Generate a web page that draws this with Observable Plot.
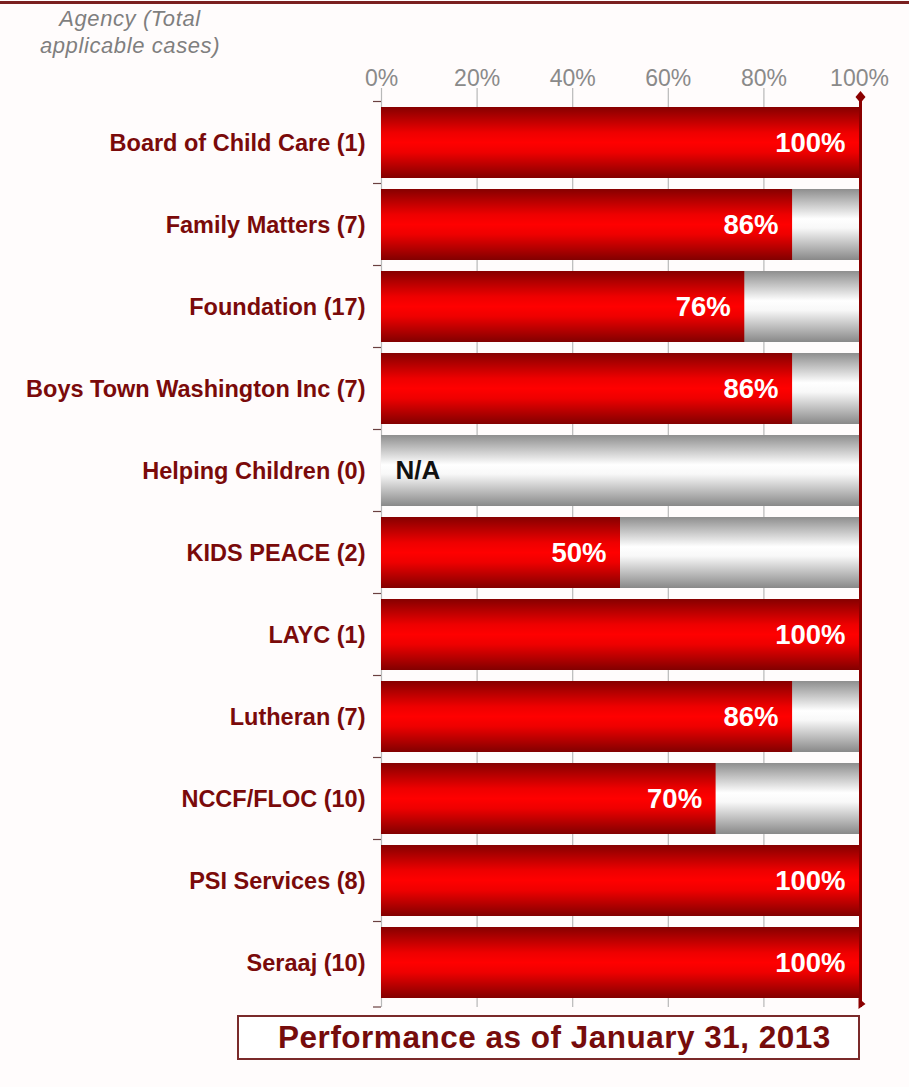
<!DOCTYPE html>
<html>
<head>
<meta charset="utf-8">
<script src="https://cdn.jsdelivr.net/npm/d3@7"></script>
<script src="https://cdn.jsdelivr.net/npm/@observablehq/plot@0.6"></script>
<style>
  html, body { margin: 0; padding: 0; background: #fffcfc; }
  body { width: 909px; height: 1087px; position: relative; overflow: hidden; font-family: "Liberation Sans", Arial, sans-serif; }
  #topline { position: absolute; left: 0; top: 1px; width: 909px; height: 3px; background: #7a1f1f; }
  #header { position: absolute; left: 20px; top: 5px; width: 220px; text-align: center; font-style: italic; font-size: 22px; letter-spacing: 0.6px; line-height: 27px; color: #7f7f7f; }
  #chart { position: absolute; left: 0; top: 0; }
  #caption { position: absolute; left: 237px; top: 1015px; width: 607px; padding-left: 12px; height: 41px; border: 2px solid #7a2a2a; background: #fff;
    text-align: center; font-weight: bold; font-size: 31.5px; letter-spacing: 0.5px; line-height: 41px; color: #760c0c; }
</style>
</head>
<body>
<div id="topline"></div>
<div id="chart"></div>
<div id="header">Agency (Total<br>applicable cases)</div>
<div id="caption">Performance as of January 31, 2013</div>
<script>
const agencies = ["Board of Child Care", "Family Matters", "Foundation", "Boys Town Washington Inc", "Helping Children", "KIDS PEACE", "LAYC", "Lutheran", "NCCF/FLOC", "PSI Services", "Seraaj"];
const totalCases = [1, 7, 17, 7, 0, 2, 1, 7, 10, 8, 10];
const percents = [100, 86, 76, 86, null, 50, 100, 86, 70, 100, 100];
const xTicks = [0, 20, 40, 60, 80, 100];

const rows = agencies.map((a, i) => ({
  label: `${a} (${totalCases[i]})`,
  value: percents[i],
  text: percents[i] == null ? "N/A" : `${percents[i]}%`
}));
const labels = rows.map(d => d.label);

function ns(tag, attrs) {
  const el = document.createElementNS("http://www.w3.org/2000/svg", tag);
  for (const k in attrs) el.setAttribute(k, attrs[k]);
  return el;
}

// gradient definitions
function defsMark() {
  const defs = ns("defs", {});
  const red = ns("linearGradient", {id: "redGrad", x1: 0, y1: 0, x2: 0, y2: 1});
  [[0, "#860000"], [0.36, "#ee0000"], [0.5, "#ff0000"], [0.64, "#ee0000"], [1, "#820000"]].forEach(([o, c]) => red.appendChild(ns("stop", {offset: o, "stop-color": c})));
  const gray = ns("linearGradient", {id: "grayGrad", x1: 0, y1: 0, x2: 0, y2: 1});
  [[0, "#8e8e8e"], [0.42, "#ffffff"], [0.55, "#f8f8f8"], [1, "#888888"]].forEach(([o, c]) => gray.appendChild(ns("stop", {offset: o, "stop-color": c})));
  defs.appendChild(red); defs.appendChild(gray);
  return defs;
}

// axis frame decorations drawn from the scales
function frameMark(...args) {
  const scales = args.find(a => a && typeof a.x === "function" && typeof a.y === "function");
  const dims = args.find(a => a && typeof a === "object" && "marginTop" in a && "width" in a);
  const g = ns("g", {});
  const x0 = scales.x(0), x100 = scales.x(100);
  const y0 = dims.marginTop, y1 = dims.height - dims.marginBottom;
  const yA = scales.y(labels[0]), yB = scales.y(labels[1]);
  const step = yB - yA;
  const bw = typeof scales.y.bandwidth === "function" ? scales.y.bandwidth() : step * 0.86;
  const half = (step - bw) / 2;
  // left tick marks at band boundaries
  labels.forEach(l => {
    const yy = scales.y(l) - half;
    g.appendChild(ns("line", {x1: x0 - 8, x2: x0, y1: yy, y2: yy, stroke: "#6b4040", "stroke-width": 1.2}));
  });
  g.appendChild(ns("line", {x1: x0 - 8, x2: x0, y1: y1, y2: y1, stroke: "#6b4040", "stroke-width": 1.2}));
  // right 100% line with markers
  g.appendChild(ns("line", {x1: x100 + 1.5, x2: x100 + 1.5, y1: y0, y2: y1, stroke: "#8b0000", "stroke-width": 3}));
  const cx = x100 + 1.5;
  g.appendChild(ns("path", {d: `M${cx},${y0 - 6}L${cx + 5},${y0}L${cx},${y0 + 6}L${cx - 5},${y0}Z`, fill: "#8b0000"}));
  g.appendChild(ns("path", {d: `M${cx - 2},${y1 - 9}L${cx + 5},${y1 - 3}L${cx - 2},${y1 + 2}Z`, fill: "#8b0000"}));
  return g;
}

const chart = Plot.plot({
  width: 909,
  height: 1012,
  marginLeft: 381,
  marginRight: 50,
  marginTop: 97,
  marginBottom: 5,
  style: {background: "transparent", overflow: "visible"},
  x: {domain: [0, 100], axis: null},
  y: {domain: labels, axis: null, paddingInner: 0.14, paddingOuter: 0.1},
  marks: [
    defsMark,
    Plot.ruleX(xTicks.slice(0, -1), {x: d => d, stroke: "#b8b8b8", strokeWidth: 1.2, insetTop: -9}),
    Plot.ruleY([0], {frameAnchor: "top", x1: 0, x2: 100, stroke: "#a8a8a8", strokeWidth: 1.5}),
    Plot.ruleY([0], {frameAnchor: "bottom", x1: 0, x2: 100, stroke: "#b0b0b0", strokeWidth: 1.5}),
    Plot.barX(rows.filter(d => d.value == null || d.value < 100), {y: "label", x1: 0, x2: 100, fill: "url(#grayGrad)"}),
    Plot.barX(rows.filter(d => d.value != null), {y: "label", x1: 0, x2: "value", fill: "url(#redGrad)"}),
    Plot.text(rows.filter(d => d.value != null), {y: "label", x: "value", text: "text", textAnchor: "end", dx: -14, fill: "white", fontWeight: "bold", fontSize: 27.5, fontFamily: "Liberation Sans, Arial, sans-serif"}),
    Plot.text(rows.filter(d => d.value == null), {y: "label", x: 0, text: "text", textAnchor: "start", dx: 14, fill: "#111", fontWeight: "bold", fontSize: 26, fontFamily: "Liberation Sans, Arial, sans-serif"}),
    Plot.text(rows, {y: "label", frameAnchor: "left", text: "label", textAnchor: "end", dx: -16, fill: "#7a0a0a", fontWeight: "bold", fontSize: 23.5, fontFamily: "Liberation Sans, Arial, sans-serif"}),
    Plot.text(xTicks, {x: d => d, frameAnchor: "top", dy: -28, text: d => `${d}%`, fill: "#8a8a8a", fontSize: 23, letterSpacing: 0.8, fontFamily: "Liberation Sans, Arial, sans-serif"}),
    frameMark
  ]
});
document.getElementById("chart").appendChild(chart);
</script>
</body>
</html>
